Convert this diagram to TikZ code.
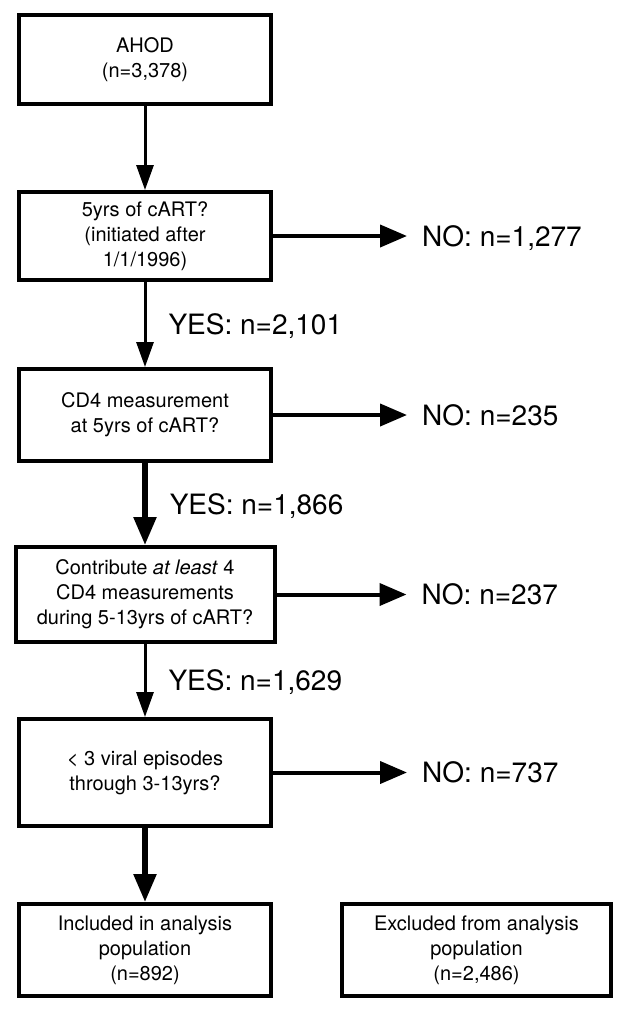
\documentclass[tikz,border=0pt]{standalone}
\usepackage{fontspec}
\setmainfont{TeX Gyre Heros}
\usetikzlibrary{positioning,arrows.meta}

\begin{document}
\begin{tikzpicture}[
  x=1pt, y=1pt,
  box/.style={draw, line width=4pt, align=center, minimum width=252pt, font=\fontsize{20}{25}\selectfont},
  answer/.style={inner sep=0pt, text height=20pt, text depth=0pt, anchor=west, font=\fontsize{28}{34}\selectfont},
  thin arrow/.style={line width=3pt, -{Triangle[length=25pt,width=17pt]}},
  thick arrow/.style={line width=5.5pt, -{Triangle[length=28pt,width=22pt]}},
  no arrow/.style={line width=4pt, -{Triangle[length=27pt,width=22pt]}, shorten >=15pt}
]
\useasboundingbox (0,0) rectangle (620,-1013);

% Boxes
\node[box, minimum height=89pt] (ahod) at (145,-59.5) {AHOD\\(n=3,378)};
\node[box, minimum height=88pt, below=84pt of ahod] (cart) {5yrs of cART?\\(initiated after\\1/1/1996)};
\node[box, minimum height=92pt, below=85pt of cart] (cdfour) {CD4 measurement\\at 5yrs of cART?};
\node[box, minimum width=259pt, minimum height=95pt, below=82pt of cdfour] (contrib) {Contribute \textit{at least} 4\\CD4 measurements\\during 5-13yrs of cART?};
\node[box, minimum height=107pt, below=73pt of contrib] (viral) {< 3 viral episodes\\through 3-13yrs?};
\node[box, minimum height=92pt, below=74pt of viral] (incl) {Included in analysis\\population\\(n=892)};
\node[box, minimum width=269pt, minimum height=92pt, right=67pt of incl] (excl) {Excluded from analysis\\population\\(n=2,486)};

% Excluded at each step
\node[answer, right=149pt of cart] (nocart) {NO: n=1,277};
\node[answer, right=149pt of cdfour] (nocdfour) {NO: n=235};
\node[answer, right=145pt of contrib] (nocontrib) {NO: n=237};
\node[answer, right=149pt of viral] (noviral) {NO: n=737};

% Arrows
\draw[thin arrow] (ahod) -- (cart);
\draw[thin arrow] (cart) -- node[answer, midway, right=22pt] (yescart) {YES: n=2,101} (cdfour);
\draw[thick arrow] (cdfour) -- node[answer, midway, right=22pt] (yescdfour) {YES: n=1,866} (contrib);
\draw[thin arrow] (contrib) -- node[answer, midway, right=22pt] (yescontrib) {YES: n=1,629} (viral);
\draw[thick arrow] (viral) -- (incl);

\draw[no arrow] (cart) -- (nocart);
\draw[no arrow] (cdfour) -- (nocdfour);
\draw[no arrow] (contrib) -- (nocontrib);
\draw[no arrow] (viral) -- (noviral);
\end{tikzpicture}
\end{document}
